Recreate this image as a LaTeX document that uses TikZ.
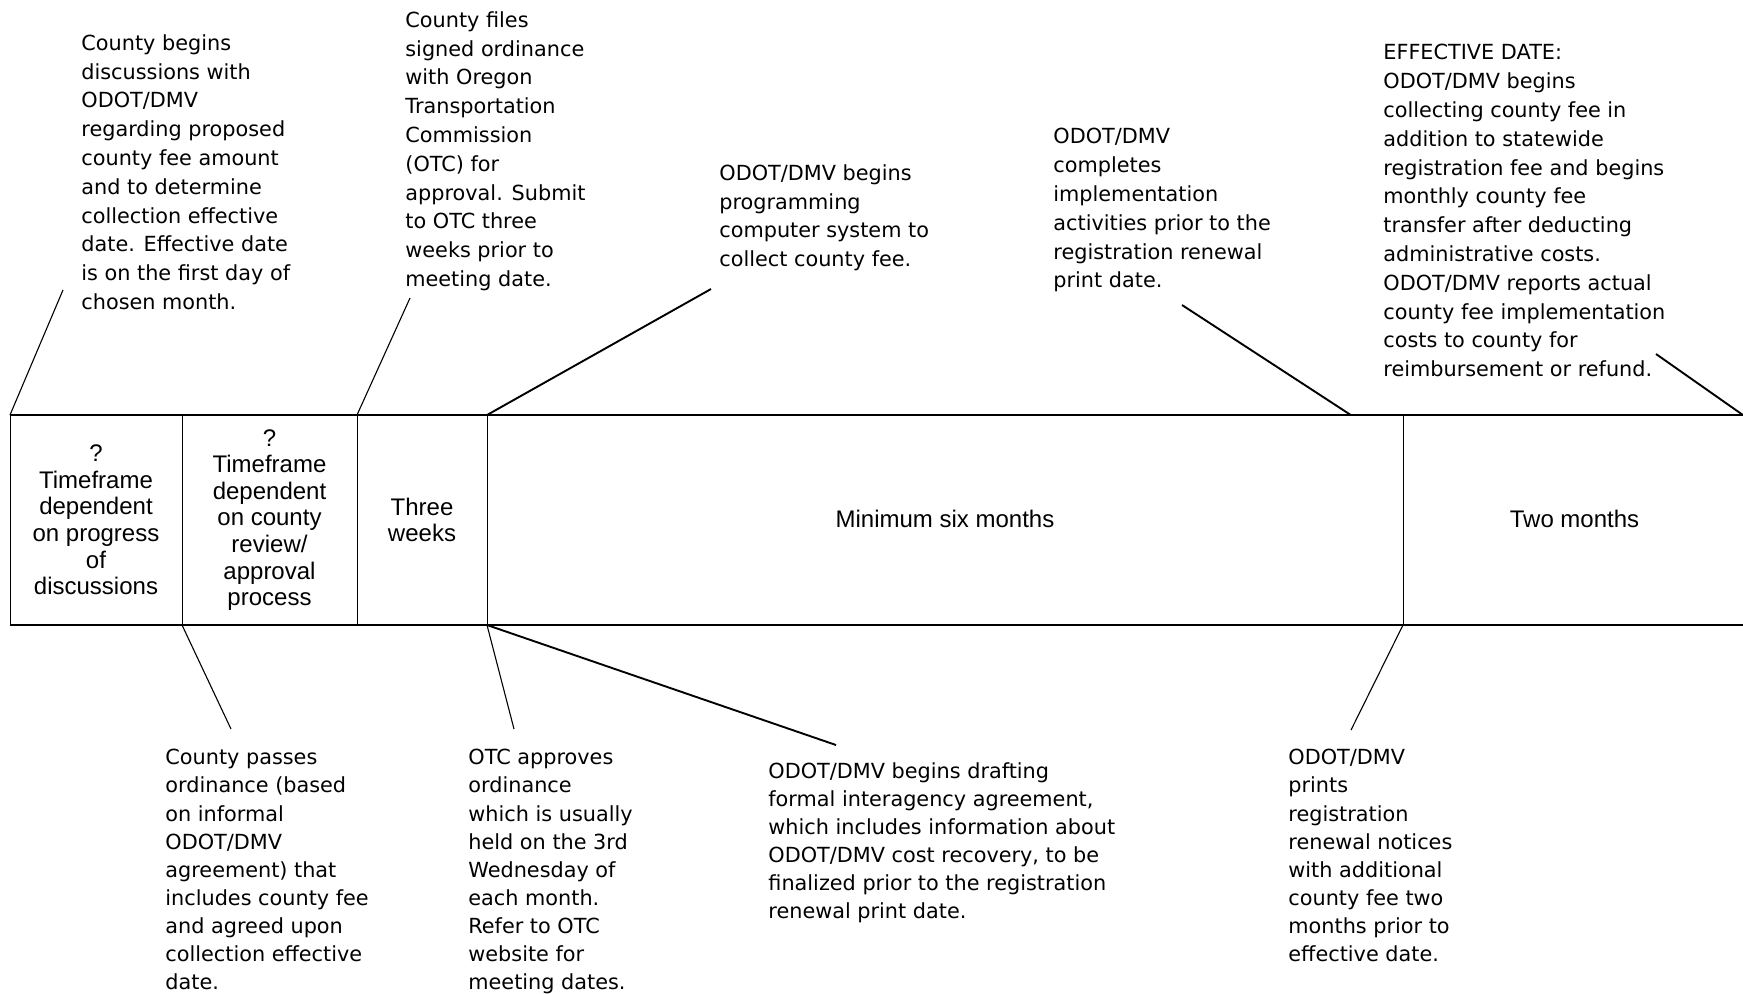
\documentclass[tikz,border=0pt]{standalone}
\usepackage{fontspec}
\newfontfamily\notefont{DejaVu Sans}
\newfontfamily\boxfont{Liberation Sans}
\usetikzlibrary{positioning,calc}

\begin{document}
\begin{tikzpicture}[x=0.5pt, y=-0.5pt,
  seg/.style={draw, line width=0.5pt, minimum height=105pt, inner sep=0pt, outer sep=0pt, align=center,
    font=\boxfont\fontsize{12pt}{13.3pt}\selectfont},
  note/.style={anchor=north west, align=left, inner sep=0pt,
    font=\notefont\fontsize{10.4pt}{14.4pt}\selectfont},
  lownote/.style={note, font=\notefont\fontsize{10.4pt}{14.05pt}\selectfont},
  lead/.style={line width=0.55pt},
  heavylead/.style={line width=0.95pt}]

\useasboundingbox (0,0) rectangle (1743,993);

%%% time line
\node[seg, anchor=north west, minimum width=86pt] (s1) at (10,415) {?\\Timeframe\\dependent\\on progress\\of\\discussions};
\node[seg, minimum width=87.5pt, right=0pt of s1] (s2) {?\\Timeframe\\dependent\\on county\\review/\\approval\\process};
\node[seg, minimum width=65pt, right=0pt of s2] (s3) {Three\\weeks};
\node[seg, minimum width=458pt, right=0pt of s3] (s4) {\raisebox{1.5pt}{Minimum six months}};
\node[seg, minimum width=171.5pt, right=0pt of s4] (s5) {\raisebox{1.5pt}{Two months}};

\draw[heavylead] (s1.north west) -- (s5.north east);
\draw[heavylead] (s1.south west) -- (s5.south east);

%%% notes above
\node[note] (n1) at (81,34) {County begins\\discussions with\\ODOT/DMV\\regarding proposed\\county fee amount\\and to determine\\collection effective\\date. Effective date\\is on the first day of\\chosen month.};
\node[note] (n2) at (405,11) {County files\\signed ordinance\\with Oregon\\Transportation\\Commission\\(OTC) for\\approval. Submit\\to OTC three\\weeks prior to\\meeting date.};
\node[note] (n3) at (719,164) {ODOT/DMV begins\\programming\\computer system to\\collect county fee.};
\node[note] (n4) at (1053,128) {ODOT/DMV\\completes\\implementation\\activities prior to the\\registration renewal\\print date.};
\node[note] (n5) at (1383,44) {EFFECTIVE DATE:\\ODOT/DMV begins\\collecting county fee in\\addition to statewide\\registration fee and begins\\monthly county fee\\transfer after deducting\\administrative costs.\\ODOT/DMV reports actual\\county fee implementation\\costs to county for\\reimbursement or refund.};

%%% notes below
\node[lownote] (n6) at (165,749) {County passes\\ordinance (based\\on informal\\ODOT/DMV\\agreement) that\\includes county fee\\and agreed upon\\collection effective\\date.};
\node[lownote] (n7) at (468,749) {OTC approves\\ordinance\\which is usually\\held on the 3rd\\Wednesday of\\each month.\\Refer to OTC\\website for\\meeting dates.};
\node[lownote] (n8) at (768,762) {ODOT/DMV begins drafting\\formal interagency agreement,\\which includes information about\\ODOT/DMV cost recovery, to be\\finalized prior to the registration\\renewal print date.};
\node[lownote] (n9) at (1288,749) {ODOT/DMV\\prints\\registration\\renewal notices\\with additional\\county fee two\\months prior to\\effective date.};

%%% leader lines
\coordinate (e1) at (63,290);
\coordinate (e2) at (410,298);
\coordinate (e3) at (711,289);
\coordinate (e4) at (1182,305);
\coordinate (e5) at (1656,354);
\coordinate (e6) at (231,729);
\coordinate (e7) at (514,729);
\coordinate (e8) at (836,745);
\coordinate (e9) at (1351,730);

\draw[lead] (s1.north west) -- (e1);
\draw[lead] (s3.north west) -- (e2);
\draw[heavylead] (s4.north west) -- (e3);
\draw[heavylead] ($(s4.north west)!0.943!(s4.north east)$) -- (e4);
\draw[heavylead] ($(s5.north west)!0.991!(s5.north east)$) -- (e5);
\draw[lead] (s2.south west) -- (e6);
\draw[lead] (s4.south west) -- (e7);
\draw[heavylead] (s4.south west) -- (e8);
\draw[lead] (s5.south west) -- (e9);

\end{tikzpicture}
\end{document}
